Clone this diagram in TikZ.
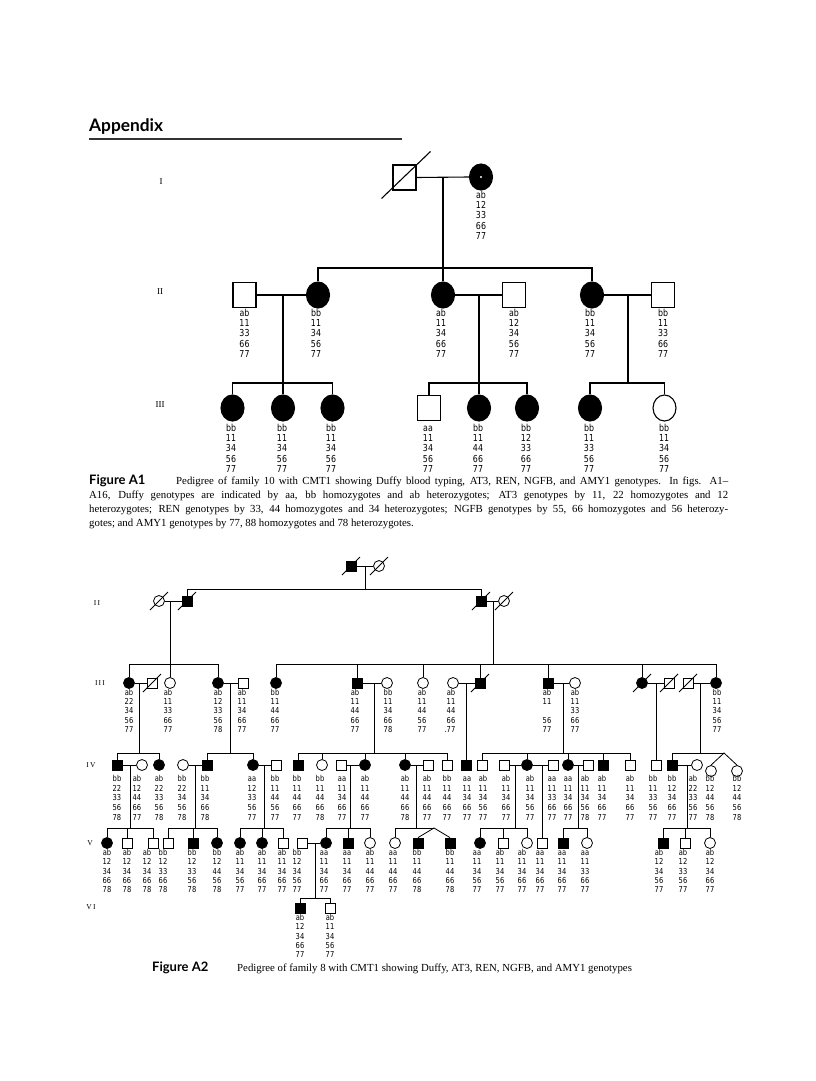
\documentclass[tikz,border=0pt]{standalone}
\usepackage{fontspec}
\setmainfont{Liberation Serif}
\newfontfamily\capsf{Lato}
\newfontfamily\gtf{DejaVu Sans}[FakeStretch=0.82]
\usetikzlibrary{shapes.geometric}
\newcommand\GT[5]{\node[#1] (#2) at (#3,#4) {\vphantom{bb}#5};}
\newcommand\dec[2]{\draw[lB] ([shift={(-#2,#2)}]#1.center) -- ([shift={(#2,-#2)}]#1.center);}
\newcommand\captxt{\rmfamily\fontsize{10.8}{14}\selectfont}
\begin{document}
\begin{tikzpicture}[x=1pt,y=-1pt,
  lA/.style={line width=1.1pt},
  lB/.style={line width=0.8pt},
  sqA/.style={draw, lA, rectangle, minimum width=23pt, minimum height=25pt, inner sep=0pt},
  fsqA/.style={sqA, fill=black},
  ciA/.style={draw, lA, ellipse, minimum width=23pt, minimum height=26pt, inner sep=0pt},
  fciA/.style={ciA, fill=black},
  sqB/.style={draw, lB, rectangle, minimum size=10pt, inner sep=0pt},
  fsqB/.style={sqB, fill=black},
  ciB/.style={draw, lB, circle, minimum size=11pt, inner sep=0pt},
  fciB/.style={ciB, fill=black},
  gtbase/.style={anchor=north, align=center, inner sep=0pt},
  gta/.style={gtbase, font=\gtf\fontsize{9.6}{10.2}\selectfont},
  gtb/.style={gtbase, font=\gtf\fontsize{8.2}{9.2}\selectfont},
  gtc/.style={gtbase, font=\gtf\fontsize{8.2}{9.7}\selectfont},
  gtd/.style={gtbase, font=\gtf\fontsize{8.2}{9.3}\selectfont},
  genA/.style={inner sep=0pt, font=\rmfamily\fontsize{9}{10}\selectfont},
  genB/.style={inner sep=0pt, font=\rmfamily\fontsize{7.5}{9}\selectfont},
]
\fill[white] (0,0) rectangle (816,1081);
\useasboundingbox (0,0) rectangle (816,1081);

% ---------------- Header
\node[anchor=base west, inner sep=0pt, font=\capsf\bfseries\fontsize{17.3}{20}\selectfont] (appx) at (89,131) {Appendix};
\coordinate (ruleL) at (89,139); \coordinate (ruleR) at (402,139);
\draw[line width=1.4pt, black!80] (ruleL) -- (ruleR);

% ================= FIGURE A1
\node[genA] (labI) at (161,182) {I};
\node[genA] (labII) at (160,292) {II};
\node[genA] (labIII) at (160,405) {III};

% generation I
\node[sqA] (I1) at (404.5,177.5) {};
\node[fciA] (I2) at (481,177) {};
\node[circle, fill=white, inner sep=0pt, minimum size=2.4pt] (I2dot) at (I2.center) {};
\draw[lA] ([shift={(-23,21)}]I1.center) -- ([shift={(26,-26)}]I1.center);
\draw[lA] (I1.east) -- (I2.west);
\coordinate (mI) at (443,177.5);
\GT{gta}{gI2}{481}{191}{ab\\12\\33\\66\\77}

% generation II
\node[sqA] (IIa) at (244.5,295) {};
\node[fciA] (IIb) at (318,295) {};
\node[fciA] (IIc) at (443,295) {};
\node[sqA] (IId) at (514,295) {};
\node[fciA] (IIe) at (592,295) {};
\node[sqA] (IIf) at (663,295) {};
\coordinate (sIIl) at (318,268); \coordinate (sIIr) at (592,268);
\draw[lA] (mI) -- (IIc.north);
\draw[lA] (IIb.north) -- (sIIl) -- (sIIr) -- (IIe.north);
\draw[lA] (IIa.east) -- (IIb.west);
\draw[lA] (IIc.east) -- (IId.west);
\draw[lA] (IIe.east) -- (IIf.west);
\coordinate (mIIab) at (283,295);
\coordinate (mIIcd) at (479,295);
\coordinate (mIIef) at (628,295);
\GT{gta}{gIIa}{244.5}{309}{ab\\11\\33\\66\\77}
\GT{gta}{gIIb}{316}{309}{bb\\11\\34\\56\\77}
\GT{gta}{gIIc}{441}{309}{ab\\11\\34\\66\\77}
\GT{gta}{gIId}{514}{309}{ab\\12\\34\\56\\77}
\GT{gta}{gIIe}{590}{309}{bb\\11\\34\\56\\77}
\GT{gta}{gIIf}{663}{309}{bb\\11\\33\\66\\77}

% generation III
\node[fciA] (IIIa) at (232.5,408) {};
\node[fciA] (IIIb) at (283,408) {};
\node[fciA] (IIIc) at (332.5,408) {};
\node[sqA]  (IIId) at (429,408) {};
\node[fciA] (IIIe) at (479,408) {};
\node[fciA] (IIIf) at (527,408) {};
\node[fciA] (IIIg) at (590,408) {};
\node[ciA]  (IIIh) at (664.5,408) {};
\coordinate (sIIIal) at (232.5,383); \coordinate (sIIIar) at (332.5,383);
\coordinate (sIIIbl) at (429,383); \coordinate (sIIIbr) at (527,383);
\coordinate (sIIIcl) at (590,383); \coordinate (sIIIcr) at (664.5,383);
\coordinate (sIIIcm) at (628,383);
\draw[lA] (mIIab) -- (IIIb.north);
\draw[lA] (IIIa.north) -- (sIIIal) -- (sIIIar) -- (IIIc.north);
\draw[lA] (mIIcd) -- (IIIe.north);
\draw[lA] (IIId.north) -- (sIIIbl) -- (sIIIbr) -- (IIIf.north);
\draw[lA] (mIIef) -- (sIIIcm);
\draw[lA] (IIIg.north) -- (sIIIcl) -- (sIIIcr) -- (IIIh.north);
\GT{gta}{gIIIa}{231}{424}{bb\\11\\34\\56\\77}
\GT{gta}{gIIIb}{282}{424}{bb\\11\\34\\56\\77}
\GT{gta}{gIIIc}{331}{424}{bb\\11\\34\\56\\77}
\GT{gta}{gIIId}{428}{424}{aa\\11\\34\\56\\77}
\GT{gta}{gIIIe}{478}{424}{bb\\11\\44\\66\\77}
\GT{gta}{gIIIf}{526}{424}{bb\\12\\33\\66\\77}
\GT{gta}{gIIIg}{589}{424}{bb\\11\\33\\56\\77}
\GT{gta}{gIIIh}{664}{424}{bb\\11\\34\\56\\77}

% caption A1
\node[anchor=base west, inner sep=0pt] (capA1a) at (89,484) {\makebox[87pt][l]{\capsf\bfseries\fontsize{13}{14}\selectfont Figure A1}\makebox[552pt][s]{\captxt Pedigree of family 10 with CMT1 showing Duffy blood typing, AT3, REN, NGFB, and AMY1 genotypes. In figs. A1--}};
\node[anchor=base west, inner sep=0pt] (capA1b) at (89,498) {\makebox[639pt][s]{\captxt A16, Duffy genotypes are indicated by aa, bb homozygotes and ab heterozygotes; AT3 genotypes by 11, 22 homozygotes and 12}};
\node[anchor=base west, inner sep=0pt] (capA1c) at (89,512) {\makebox[639pt][s]{\captxt heterozygotes; REN genotypes by 33, 44 homozygotes and 34 heterozygotes; NGFB genotypes by 55, 66 homozygotes and 56 heterozy-}};
\node[anchor=base west, inner sep=0pt] (capA1d) at (89,526) {\captxt gotes; and AMY1 genotypes by 77, 88 homozygotes and 78 heterozygotes.};

% ================= FIGURE A2
\node[genB] (lbII) at (97,603) {I\,I};
\node[genB] (lbIII) at (100,683) {I\,I\,I};
\node[genB] (lbIV) at (91,765) {I\,V};
\node[genB] (lbV) at (90,843) {V};
\node[genB] (lbVI) at (91,907) {V\,I};

% generation I
\node[fsqB] (P1) at (351,566) {};
\node[ciB] (P2) at (379,566) {};
\dec{P1}{9} \dec{P2}{9}
\draw[lB] (P1.east) -- (P2.west);
\coordinate (mP) at (365,566);
\coordinate (sQl) at (187,589); \coordinate (sQr) at (481,589); \coordinate (sQm) at (365,589);
\draw[lB] (mP) -- (sQm);

% generation II
\node[ciB] (Q1) at (159,601) {};
\node[fsqB] (Q2) at (187,601) {};
\node[fsqB] (Q3) at (481,601) {};
\node[ciB] (Q4) at (504,601) {};
\dec{Q1}{9} \dec{Q2}{9} \dec{Q3}{9} \dec{Q4}{9}
\draw[lB] (Q2.north) -- (sQl) -- (sQr) -- (Q3.north);
\draw[lB] (Q1.east) -- (Q2.west);
\draw[lB] (Q3.east) -- (Q4.west);
\coordinate (mQ12) at (170,601);
\coordinate (mQ34) at (493,601);

% generation III
\node[fciB] (R1) at (129,683) {};
\node[sqB]  (R2) at (152,683) {};
\node[ciB]  (R3) at (170,683) {};
\node[fciB] (R4) at (218,683) {};
\node[sqB]  (R5) at (243,683) {};
\node[fciB] (R6) at (276,683) {};
\node[fsqB] (R7) at (357,683) {};
\node[ciB]  (R8) at (387,683) {};
\node[ciB]  (R9) at (423,683) {};
\node[ciB]  (R10) at (453,683) {};
\node[fsqB] (R11) at (480,683) {};
\node[fsqB] (R12) at (548,683) {};
\node[ciB]  (R13) at (575,683) {};
\node[fciB] (R14) at (642,683) {};
\node[sqB]  (R15) at (669,683) {};
\node[sqB]  (R16) at (688,683) {};
\node[fciB] (R17) at (716,683) {};
\dec{R2}{9} \dec{R11}{9} \dec{R14}{9} \dec{R15}{9} \dec{R16}{9}
\coordinate (sRal) at (129,664); \coordinate (sRar) at (218,664);
\coordinate (sRbl) at (276,664); \coordinate (sRbr) at (716,664);
\coordinate (sRbm) at (493,664);
\coordinate (dR7) at (357,664); \coordinate (dR9) at (423,664);
\coordinate (dR11) at (480,664); \coordinate (dR12) at (548,664);
\coordinate (dR14) at (642,664);
\draw[lB] (mQ12) -- (R3.north);
\draw[lB] (R1.north) -- (sRal) -- (sRar) -- (R4.north);
\draw[lB] (mQ34) -- (sRbm);
\draw[lB] (R6.north) -- (sRbl) -- (sRbr) -- (R17.north);
\draw[lB] (dR7) -- (R7.north);
\draw[lB] (dR9) -- (R9.north);
\draw[lB] (dR11) -- (R11.north);
\draw[lB] (dR12) -- (R12.north);
\draw[lB] (dR14) -- (R14.north);
\draw[lB] (R1.east) -- (R2.west);
\draw[lB] (R4.east) -- (R5.west);
\draw[lB] (R7.east) -- (R8.west);
\draw[lB] (R10.east) -- (R11.west);
\draw[lB] (R12.east) -- (R13.west);
\draw[lB] (R14.east) -- (R15.west);
\draw[lB] (R16.east) -- (R17.west);
\coordinate (mR12) at (139,683);
\coordinate (mR45) at (230,683);
\coordinate (mR78) at (374,683);
\coordinate (mR1011) at (466,683);
\coordinate (mR1213) at (563,683);
\coordinate (mR1415) at (656,683);
\coordinate (mR1617) at (700,683);
\GT{gtb}{gR1}{129}{689}{ab\\22\\34\\56\\77}
\GT{gtb}{gR3}{168}{689}{ab\\11\\33\\66\\77}
\GT{gtb}{gR4}{218}{689}{ab\\12\\33\\56\\78}
\GT{gtb}{gR5}{242}{689}{ab\\11\\34\\66\\77}
\GT{gtb}{gR6}{275}{689}{bb\\11\\44\\66\\77}
\GT{gtb}{gR7}{355}{689}{ab\\11\\44\\66\\77}
\GT{gtb}{gR8}{388}{689}{bb\\11\\34\\66\\78}
\GT{gtb}{gR9}{422}{689}{ab\\11\\44\\56\\77}
\GT{gtb}{gR10}{451}{689}{ab\\11\\44\\66\\\llap{.}77}
\GT{gtb}{gR12}{547}{689}{ab\\11\\\phantom{00}\\56\\77}
\GT{gtb}{gR13}{575}{689}{ab\\11\\33\\66\\77}
\GT{gtb}{gR17}{717}{689}{bb\\11\\34\\56\\77}

% generation IV
\node[fsqB] (S1) at (117,765) {};
\node[ciB]  (S2) at (142,765) {};
\node[fciB] (S3) at (159,765) {};
\node[ciB]  (S4) at (183,765) {};
\node[fsqB] (S5) at (207,765) {};
\node[fciB] (S6) at (253,765) {};
\node[sqB]  (S7) at (276,765) {};
\node[fsqB] (S8) at (298,765) {};
\node[ciB]  (S9) at (322,765) {};
\node[sqB]  (S10) at (341,765) {};
\node[fciB] (S11) at (365,765) {};
\node[fciB] (S12) at (405,765) {};
\node[sqB]  (S13) at (428,765) {};
\node[sqB]  (S14) at (447,765) {};
\node[fsqB] (S15) at (466,765) {};
\node[sqB]  (S16) at (482,765) {};
\node[sqB]  (S17) at (504,765) {};
\node[fciB] (S18) at (527,765) {};
\node[sqB]  (S19) at (553,765) {};
\node[fciB] (S20) at (568,765) {};
\node[sqB]  (S21) at (588,765) {};
\node[fsqB] (S22) at (603,765) {};
\node[sqB]  (S23) at (630,765) {};
\node[sqB]  (S24) at (656,765) {};
\node[fsqB] (S25) at (672,765) {};
\node[ciB]  (S26) at (697,765) {};
\node[ciB]  (S27) at (711,771) {};
\node[ciB]  (S28) at (737,771) {};
% sibships IV
\coordinate (sSal) at (117,753); \coordinate (sSar) at (159,753); \coordinate (sSam) at (139,753);
\draw[lB] (mR12) -- (sSam);
\draw[lB] (S1.north) -- (sSal) -- (sSar) -- (S3.north);
\coordinate (sSbl) at (207,753); \coordinate (sSbr) at (253,753); \coordinate (sSbm) at (230,753);
\draw[lB] (mR45) -- (sSbm);
\draw[lB] (S5.north) -- (sSbl) -- (sSbr) -- (S6.north);
\coordinate (sScl) at (298,753); \coordinate (sScr) at (447,753); \coordinate (sScm) at (374,753);
\coordinate (dS9) at (322,753); \coordinate (dS11) at (365,753); \coordinate (dS12) at (405,753);
\draw[lB] (mR78) -- (sScm);
\draw[lB] (S8.north) -- (sScl) -- (sScr) -- (S14.north);
\draw[lB] (dS9) -- (S9.north);
\draw[lB] (dS11) -- (S11.north);
\draw[lB] (dS12) -- (S12.north);
\draw[lB] (mR1011) -- (S15.north);
\coordinate (sSel) at (482,753); \coordinate (sSer) at (630,753); \coordinate (sSem) at (563,753);
\coordinate (dS18) at (527,753); \coordinate (dS20) at (568,753); \coordinate (dS22) at (603,753);
\draw[lB] (mR1213) -- (sSem);
\draw[lB] (S16.north) -- (sSel) -- (sSer) -- (S23.north);
\draw[lB] (dS18) -- (S18.north);
\draw[lB] (dS20) -- (S20.north);
\draw[lB] (dS22) -- (S22.north);
\draw[lB] (mR1415) -- (S24.north);
\coordinate (sSgl) at (672,753); \coordinate (apexS) at (724,753); \coordinate (sSgm) at (700,753);
\draw[lB] (mR1617) -- (sSgm);
\draw[lB] (S25.north) -- (sSgl) -- (apexS);
\draw[lB] (S27.north) -- (apexS) -- (S28.north);
% marriages IV
\draw[lB] (S1.east) -- (S2.west);
\draw[lB] (S4.east) -- (S5.west);
\draw[lB] (S6.east) -- (S7.west);
\draw[lB] (S10.east) -- (S11.west);
\draw[lB] (S12.east) -- (S13.west);
\draw[lB] (S17.east) -- (S18.west);
\draw[lB] (S18.east) -- (S19.west);
\draw[lB] (S20.east) -- (S21.west);
\draw[lB] (S25.east) -- (S26.west);
\coordinate (mS12) at (130,765);
\coordinate (mS45) at (195,765);
\coordinate (mS67) at (264,765);
\coordinate (mS1011) at (350,765);
\coordinate (mS1213) at (416,765);
\coordinate (mS1718) at (515,765);
\coordinate (mS1819) at (542,765);
\coordinate (mS2021) at (578,765);
\coordinate (mS2526) at (687,765);
\GT{gtc}{gS1}{117}{775}{bb\\22\\33\\56\\78}
\GT{gtc}{gS2}{137}{775}{ab\\12\\44\\66\\77}
\GT{gtc}{gS3}{159}{775}{ab\\22\\33\\56\\78}
\GT{gtc}{gS4}{182}{775}{bb\\22\\34\\56\\78}
\GT{gtc}{gS5}{205}{775}{bb\\11\\34\\66\\78}
\GT{gtc}{gS6}{252}{775}{aa\\12\\33\\56\\77}
\GT{gtc}{gS7}{275}{775}{bb\\11\\44\\56\\77}
\GT{gtc}{gS8}{297}{775}{bb\\11\\44\\66\\77}
\GT{gtc}{gS9}{320}{775}{bb\\11\\44\\66\\78}
\GT{gtc}{gS10}{342}{775}{aa\\11\\34\\66\\77}
\GT{gtc}{gS11}{365}{775}{ab\\11\\44\\66\\77}
\GT{gtc}{gS12}{405}{775}{ab\\11\\44\\66\\78}
\GT{gtc}{gS13}{427}{775}{ab\\11\\44\\66\\77}
\GT{gtc}{gS14}{447}{775}{bb\\11\\44\\66\\77}
\GT{gtc}{gS15}{467}{775}{aa\\11\\34\\66\\77}
\GT{gtc}{gS16}{483}{775}{ab\\11\\34\\56\\77}
\GT{gtc}{gS17}{506}{775}{ab\\11\\34\\66\\77}
\GT{gtc}{gS18}{530}{775}{ab\\11\\34\\56\\77}
\GT{gtc}{gS19}{552}{775}{aa\\11\\33\\66\\77}
\GT{gtc}{gS20}{568}{775}{aa\\11\\34\\66\\77}
\GT{gtc}{gS21}{585}{775}{ab\\11\\34\\56\\78}
\GT{gtc}{gS22}{602}{775}{ab\\11\\34\\66\\77}
\GT{gtc}{gS23}{630}{775}{ab\\11\\34\\66\\77}
\GT{gtc}{gS24}{653}{775}{bb\\11\\33\\56\\77}
\GT{gtc}{gS25}{672}{775}{bb\\12\\34\\66\\77}
\GT{gtc}{gS26}{693}{775}{ab\\22\\33\\56\\77}
\GT{gtc}{gS27}{710}{775}{bb\\12\\44\\56\\78}
\GT{gtc}{gS28}{737}{775}{bb\\12\\44\\56\\78}

% generation V
\node[fciB] (T1) at (107,843) {};
\node[sqB]  (T2) at (127,843) {};
\node[sqB]  (T3) at (153,843) {};
\node[sqB]  (T4) at (168,843) {};
\node[fsqB] (T5) at (193,843) {};
\node[fciB] (T6) at (217,843) {};
\node[fciB] (T7) at (240,843) {};
\node[fciB] (T8) at (262,843) {};
\node[sqB]  (T9) at (283,843) {};
\node[sqB]  (T10) at (302,843) {};
\node[fciB] (T11) at (326,843) {};
\node[fsqB] (T12) at (348,843) {};
\node[ciB]  (T13) at (370,843) {};
\node[ciB]  (T14) at (395,843) {};
\node[fsqB] (T15) at (418,843) {};
\node[fsqB] (T16) at (450,843) {};
\node[fciB] (T17) at (480,843) {};
\node[sqB]  (T18) at (503,843) {};
\node[ciB]  (T19) at (527,843) {};
\node[sqB]  (T20) at (542,843) {};
\node[fsqB] (T21) at (563,843) {};
\node[ciB]  (T22) at (587,843) {};
\node[fsqB] (T23) at (663,843) {};
\node[sqB]  (T24) at (685,843) {};
\node[ciB]  (T25) at (710,843) {};
% sibships V
\coordinate (sTal) at (107,828); \coordinate (sTar) at (153,828); \coordinate (sTam) at (130,828); \coordinate (dT2) at (127,828);
\draw[lB] (mS12) -- (sTam);
\draw[lB] (T1.north) -- (sTal) -- (sTar) -- (T3.north);
\draw[lB] (dT2) -- (T2.north);
\coordinate (sTbl) at (168,828); \coordinate (sTbr) at (217,828); \coordinate (sTbm) at (195,828); \coordinate (dT5) at (193,828);
\draw[lB] (mS45) -- (sTbm);
\draw[lB] (T4.north) -- (sTbl) -- (sTbr) -- (T6.north);
\draw[lB] (dT5) -- (T5.north);
\coordinate (sTcl) at (240,828); \coordinate (sTcr) at (283,828); \coordinate (sTcm) at (264,828); \coordinate (dT8) at (262,828);
\draw[lB] (mS67) -- (sTcm);
\draw[lB] (T7.north) -- (sTcl) -- (sTcr) -- (T9.north);
\draw[lB] (dT8) -- (T8.north);
\coordinate (sTdl) at (326,828); \coordinate (sTdr) at (370,828); \coordinate (sTdm) at (350,828); \coordinate (dT12) at (348,828);
\draw[lB] (mS1011) -- (sTdm);
\draw[lB] (T11.north) -- (sTdl) -- (sTdr) -- (T13.north);
\draw[lB] (dT12) -- (T12.north);
\coordinate (sTel) at (395,828); \coordinate (apexT) at (434,828); \coordinate (sTem) at (416,828);
\draw[lB] (mS1213) -- (sTem);
\draw[lB] (T14.north) -- (sTel) -- (apexT);
\draw[lB] (T15.north) -- (apexT) -- (T16.north);
\coordinate (sTfl) at (480,828); \coordinate (sTfr) at (527,828); \coordinate (sTfm) at (515,828); \coordinate (dT18) at (503,828);
\draw[lB] (mS1718) -- (sTfm);
\draw[lB] (T17.north) -- (sTfl) -- (sTfr) -- (T19.north);
\draw[lB] (dT18) -- (T18.north);
\draw[lB] (mS1819) -- (T20.north);
\coordinate (sTgl) at (563,828); \coordinate (sTgr) at (587,828); \coordinate (sTgm) at (578,828);
\draw[lB] (mS2021) -- (sTgm);
\draw[lB] (T21.north) -- (sTgl) -- (sTgr) -- (T22.north);
\coordinate (sThl) at (663,828); \coordinate (sThr) at (710,828); \coordinate (sThm) at (687,828); \coordinate (dT24) at (685,828);
\draw[lB] (mS2526) -- (sThm);
\draw[lB] (T23.north) -- (sThl) -- (sThr) -- (T25.north);
\draw[lB] (dT24) -- (T24.north);
% marriage V
\draw[lB] (T10.east) -- (T11.west);
\coordinate (mT1011) at (315,843);
\GT{gtd}{gT1}{107}{849}{ab\\12\\34\\66\\78}
\GT{gtd}{gT2}{127}{849}{ab\\12\\34\\66\\78}
\GT{gtd}{gT3}{147}{849}{ab\\12\\34\\66\\78}
\GT{gtd}{gT4}{163}{849}{bb\\12\\33\\66\\78}
\GT{gtd}{gT5}{192}{849}{bb\\12\\33\\56\\78}
\GT{gtd}{gT6}{217}{849}{bb\\12\\44\\56\\78}
\GT{gtd}{gT7}{240}{849}{ab\\11\\34\\56\\77}
\GT{gtd}{gT8}{262}{849}{ab\\11\\34\\66\\77}
\GT{gtd}{gT9}{282}{849}{ab\\11\\34\\66\\77}
\GT{gtd}{gT10}{297}{849}{bb\\12\\34\\56\\77}
\GT{gtd}{gT11}{324}{849}{aa\\11\\34\\66\\77}
\GT{gtd}{gT12}{347}{849}{aa\\11\\34\\66\\77}
\GT{gtd}{gT13}{370}{849}{ab\\11\\44\\66\\77}
\GT{gtd}{gT14}{393}{849}{aa\\11\\44\\66\\77}
\GT{gtd}{gT15}{417}{849}{bb\\11\\44\\66\\78}
\GT{gtd}{gT16}{450}{849}{bb\\11\\44\\66\\78}
\GT{gtd}{gT17}{477}{849}{aa\\11\\34\\56\\77}
\GT{gtd}{gT18}{500}{849}{ab\\11\\34\\56\\77}
\GT{gtd}{gT19}{522}{849}{ab\\11\\34\\66\\77}
\GT{gtd}{gT20}{540}{849}{aa\\11\\34\\66\\77}
\GT{gtd}{gT21}{562}{849}{aa\\11\\34\\66\\77}
\GT{gtd}{gT22}{585}{849}{aa\\11\\33\\66\\77}
\GT{gtd}{gT23}{659}{849}{ab\\12\\34\\56\\77}
\GT{gtd}{gT24}{683}{849}{ab\\12\\33\\56\\77}
\GT{gtd}{gT25}{710}{849}{ab\\12\\34\\66\\77}

% generation VI
\node[fsqB] (U1) at (300,908) {};
\node[sqB]  (U2) at (330,908) {};
\coordinate (sUl) at (300,898); \coordinate (sUr) at (330,898); \coordinate (sUm) at (315,898);
\draw[lB] (mT1011) -- (sUm);
\draw[lB] (U1.north) -- (sUl) -- (sUr) -- (U2.north);
\GT{gtd}{gU1}{300}{914}{ab\\12\\34\\66\\77}
\GT{gtd}{gU2}{330}{914}{ab\\11\\34\\56\\77}

% caption A2
\node[anchor=base west, inner sep=0pt] (capA2) at (152,971) {\makebox[85pt][l]{\capsf\bfseries\fontsize{13}{14}\selectfont Figure A2}\captxt Pedigree of family 8 with CMT1 showing Duffy, AT3, REN, NGFB, and AMY1 genotypes};
\end{tikzpicture}
\end{document}
